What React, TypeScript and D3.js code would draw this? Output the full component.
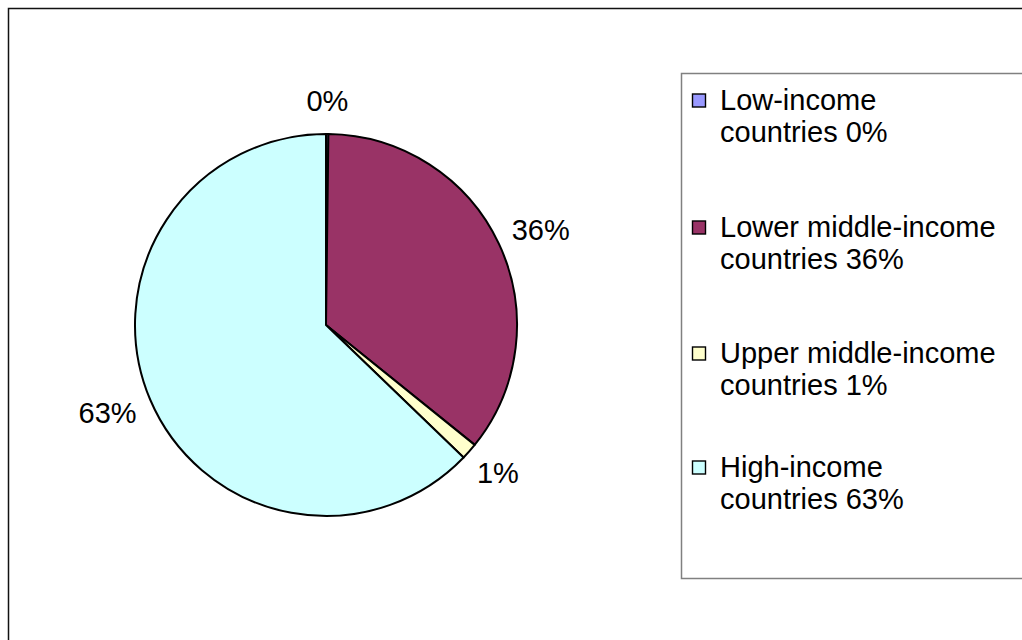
import React from "react";
import * as d3 from "d3";

const categories = ["Low-income countries", "Lower middle-income countries", "Upper middle-income countries", "High-income countries"];
const legendLine1 = ["Low-income", "Lower middle-income", "Upper middle-income", "High-income"];
const legendLine2 = ["countries 0%", "countries 36%", "countries 1%", "countries 63%"];
const values = [0.2, 35.6, 1.4, 62.8];
const labels = ["0%", "36%", "1%", "63%"];
const colors = ["#9999FF", "#993366", "#FFFFCC", "#CCFFFF"];

export default function App() {
  const W = 1022, H = 640;
  const cx = 326, cy = 325, r = 191;
  const pie = d3.pie<number>().sort(null).value((d) => d);
  const arcs = pie(values);
  const arc = d3.arc<d3.PieArcDatum<number>>().innerRadius(0).outerRadius(r);
  const fs = 29;
  const charW = fs * 0.56;

  const legendX = 681, legendY = 73, legendBottom = 578;
  const entryYs = [100, 227, 353, 467];

  return (
    <svg width={W} height={H} style={{ position: "absolute", left: 0, top: 0, display: "block" }}
      fontFamily="'Liberation Sans', Arial, sans-serif">
      <rect x={0} y={0} width={W} height={H} fill="#fff" />
      <rect x={8.5} y={8.5} width={1200} height={800} fill="none" stroke="#111" strokeWidth={1.5} />
      <g transform={`translate(${cx},${cy})`}>
        {arcs.map((a, i) => (
          <path key={categories[i]} d={arc(a) || ""} fill={colors[i]} stroke="#000" strokeWidth={2} strokeLinejoin="round" />
        ))}
        {arcs.map((a, i) => {
          const mid = (a.startAngle + a.endAngle) / 2;
          const dx = Math.sin(mid), dy = -Math.cos(mid);
          const D = r + 22;
          const w = labels[i].length * charW;
          const h = fs * 0.75;
          const x = dx * D + dx * w / 2;
          const y = dy * D + dy * h / 2;
          return (
            <text key={labels[i]} x={x} y={y} textAnchor="middle" dominantBaseline="central" fontSize={fs} fill="#000">
              {labels[i]}
            </text>
          );
        })}
      </g>
      <rect x={legendX + 0.5} y={legendY + 0.5} width={500} height={legendBottom - legendY} fill="#fff" stroke="#808080" strokeWidth={1.5} />
      {categories.map((c, i) => {
        const y = entryYs[i];
        return (
          <g key={c}>
            <rect x={692.5} y={y - 6} width={13} height={13} fill={colors[i]} stroke="#000" strokeWidth={1.4} />
            <text x={720} y={y} dominantBaseline="central" fontSize={fs} fill="#000">{legendLine1[i]}</text>
            <text x={720} y={y + 32} dominantBaseline="central" fontSize={fs} fill="#000">{legendLine2[i]}</text>
          </g>
        );
      })}
    </svg>
  );
}
